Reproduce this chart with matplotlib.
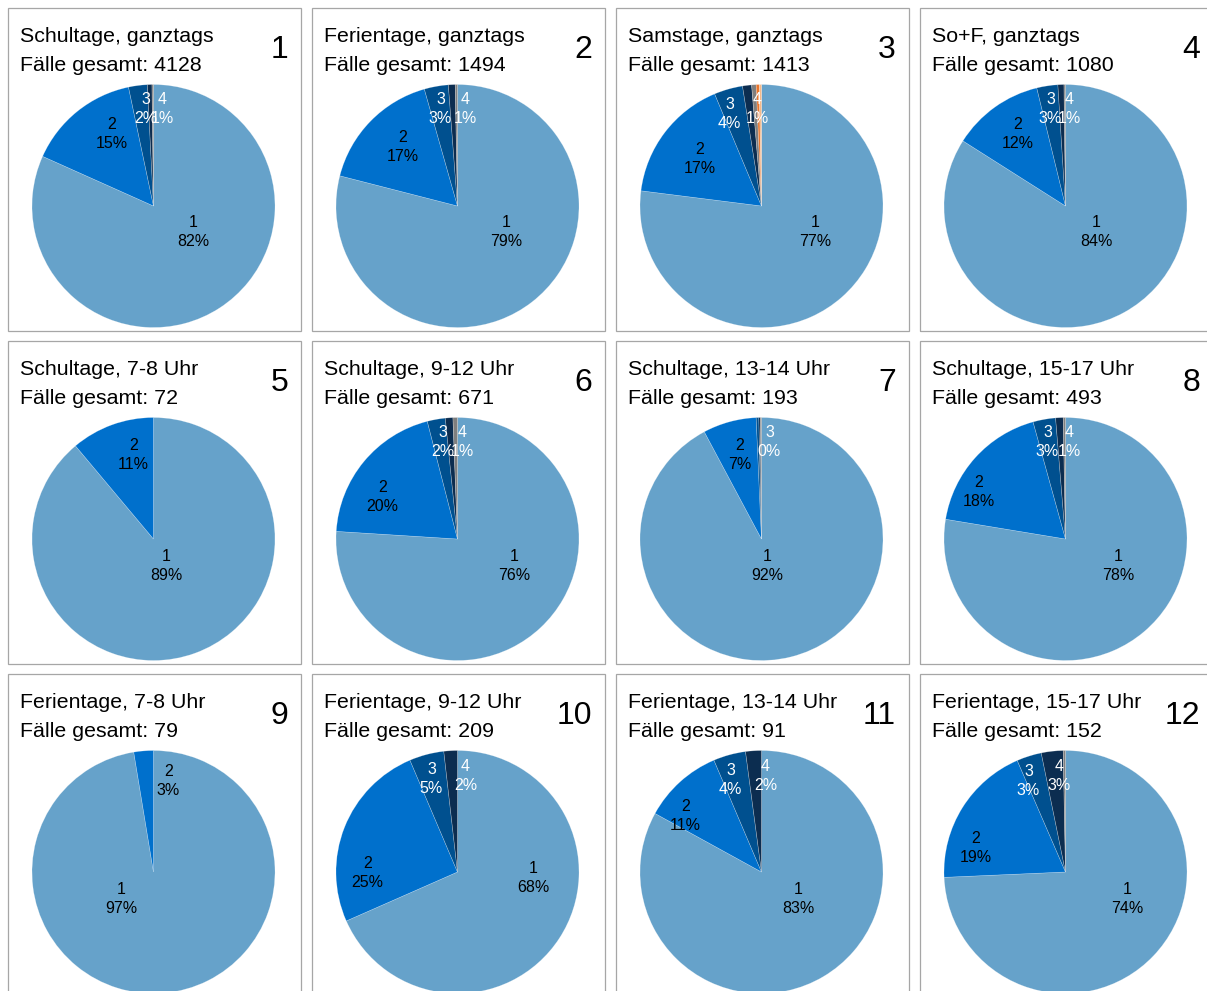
import matplotlib
matplotlib.use("Agg")
import matplotlib.pyplot as plt
from matplotlib.patches import Rectangle

plt.rcParams['font.family'] = ['Liberation Sans', 'DejaVu Sans']

# ---- data -----------------------------------------------------------------
titles = [
    "Schultage, ganztags", "Ferientage, ganztags", "Samstage, ganztags", "So+F, ganztags",
    "Schultage, 7-8 Uhr", "Schultage, 9-12 Uhr", "Schultage, 13-14 Uhr", "Schultage, 15-17 Uhr",
    "Ferientage, 7-8 Uhr", "Ferientage, 9-12 Uhr", "Ferientage, 13-14 Uhr", "Ferientage, 15-17 Uhr",
]
totals = [4128, 1494, 1413, 1080, 72, 671, 193, 493, 79, 209, 91, 152]

# share of cases per category (percent), category 1, 2, 3, ...
shares = [
    [81.7, 15.0, 2.5, 0.6, 0.2],
    [79.0, 16.6, 3.2, 0.9, 0.3],
    [77.0, 16.7, 3.8, 1.2, 0.6, 0.4, 0.3],
    [84.0, 12.2, 2.8, 0.8, 0.2],
    [88.9, 11.1],
    [76.0, 20.0, 2.4, 1.0, 0.6],
    [92.2, 7.1, 0.35, 0.2, 0.15],
    [77.6, 18.1, 3.0, 1.0, 0.3],
    [97.4, 2.6],
    [68.4, 25.2, 4.6, 1.8],
    [83.0, 10.6, 4.3, 2.1],
    [74.3, 19.2, 3.3, 2.9, 0.3],
]
category_names = ["1", "2", "3", "4", "5", "6", "7"]

# ---- layout (pixels) -------------------------------------------------------
W, H = 1207, 991
DPI = 100
box_left = [8, 312, 616, 920]
box_top = [8, 341, 674]
box_w, box_h = 293, 323
pie_dx, pie_dy, R = 145.5, 198.0, 121.5

# how many categories carry a label in each panel
n_labelled = [4, 4, 4, 4, 2, 4, 3, 4, 2, 4, 4, 4]
# label anchors relative to the pie centre (pixels, x right / y down)
label_xy = [
    [(40, 26), (-42, -72), (-8, -97), (9, -97)],
    [(49, 26), (-55, -59), (-17, -97), (8, -97)],
    [(54, 26), (-62, -47), (-32, -92), (-4, -97)],
    [(31, 26), (-48, -72), (-15, -97), (4, -97)],
    [(13, 27), (-20, -84)],
    [(57, 27), (-75, -42), (-15, -97), (5, -97)],
    [(6, 27), (-22, -84), (8, -97)],
    [(53, 27), (-87, -47), (-18, -97), (4, -97)],
    [(-32, 27), (15, -91)],
    [(76, 6), (-90, 1), (-26, -93), (8, -96)],
    [(37, 27), (-76, -56), (-31, -92), (4, -96)],
    [(62, 27), (-90, -24), (-37, -91), (-6, -96)],
]

colors = ["#66a2ca", "#0070cc", "#00508f", "#0c2d50", "#7f7f7f", "#e8742b", "#f4b98a"]
label_colors = ["black", "black", "white", "white"]

fig = plt.figure(figsize=(W / DPI, H / DPI), dpi=DPI)
fig.patch.set_facecolor("white")


def fx(px):
    return px / W


def fy(py):
    return 1 - py / H


for i in range(12):
    row, col = divmod(i, 4)
    bl, bt = box_left[col], box_top[row]

    # panel frame
    fig.patches.append(Rectangle((fx(bl), fy(bt + box_h)), box_w / W, box_h / H,
                                 transform=fig.transFigure, fill=False,
                                 edgecolor="#a6a6a6", linewidth=0.9))

    # heading
    fig.text(fx(bl + 12), fy(bt + 28.5), titles[i], fontsize=15.4,
             ha="left", va="center", color="black")
    fig.text(fx(bl + 12), fy(bt + 57.5), f"Fälle gesamt: {totals[i]}", fontsize=15.4,
             ha="left", va="center", color="black")
    fig.text(fx(bl + 280), fy(bt + 42), str(i + 1), fontsize=23,
             ha="right", va="center", color="black")

    # pie
    cx, cy = bl + pie_dx, bt + pie_dy
    ax = fig.add_axes([fx(cx - R), fy(cy + R), 2 * R / W, 2 * R / H])
    vals = shares[i]
    ax.pie(vals, colors=colors[:len(vals)], startangle=90, counterclock=False,
           radius=1.0, wedgeprops=dict(linewidth=0.4, edgecolor=(1, 1, 1, 0.35)))
    ax.set_xlim(-1, 1)
    ax.set_ylim(-1, 1)
    ax.set_aspect("equal")
    ax.axis("off")

    total = sum(vals)
    for k in range(n_labelled[i]):
        dx, dy = label_xy[i][k]
        pct = vals[k] / total * 100
        ax.text(dx / R, -dy / R, f"{category_names[k]}\n{pct:.0f}%",
                ha="center", va="center", fontsize=11.5,
                color=label_colors[k], linespacing=1.3)

fig.savefig("out.png", dpi=DPI, facecolor="white")
